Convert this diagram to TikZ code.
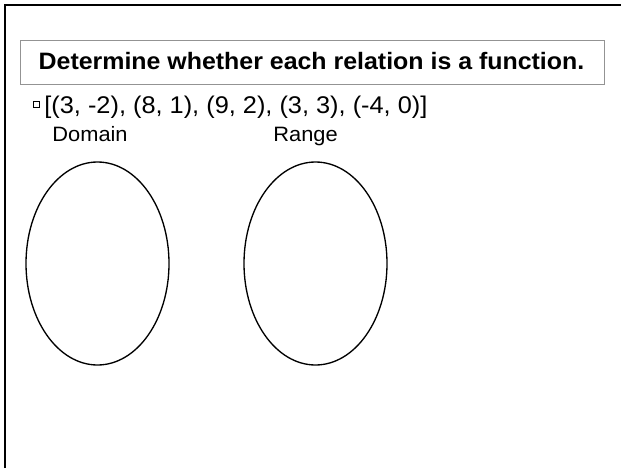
\documentclass[tikz,border=0pt]{standalone}
\usepackage{fontspec}
\setmainfont{Liberation Sans}
\newfontfamily\slidefont[FakeStretch=1.05]{Liberation Sans}
\usetikzlibrary{shapes.geometric}
\tikzset{
  setoval/.style={ellipse, draw, line width=1pt, minimum width=107.25pt, minimum height=152.25pt, inner sep=0pt},
  setlabel/.style={anchor=base west, inner sep=0pt, font=\slidefont\fontsize{15.6}{18}\selectfont}
}
\begin{document}
\begin{tikzpicture}[x=0.75pt, y=-0.75pt, line width=0.6pt]
  \useasboundingbox (0,0) rectangle (621,468);
  \fill[white] (0,0) rectangle (621,468);
  \draw[line width=1.5pt] (5,468) -- (5,5) -- (621,5);
  \draw[gray!85] (20,40) rectangle (604,84);
  \node[anchor=base, inner sep=0pt, font=\slidefont\bfseries\fontsize{17.8}{20}\selectfont] (title) at (311.5,69) {Determine whether each relation is a function.};
  \node[draw, line width=0.5pt, minimum size=4.5pt, inner sep=0pt] (bullet) at (36,104) {};
  \node[anchor=base west, inner sep=0pt, font=\slidefont\fontsize{18.1}{21}\selectfont] (pairs) at (44,113) {[(3, -2), (8, 1), (9, 2), (3, 3), (-4, 0)]};
  \node[setlabel] (domainlbl) at (52,141) {Domain};
  \node[setlabel] (rangelbl) at (273,141) {Range};
  \node[setoval] (domain) at (97.5,263.5) {};
  \node[setoval] (range) at (315.5,263.5) {};
\end{tikzpicture}
\end{document}
